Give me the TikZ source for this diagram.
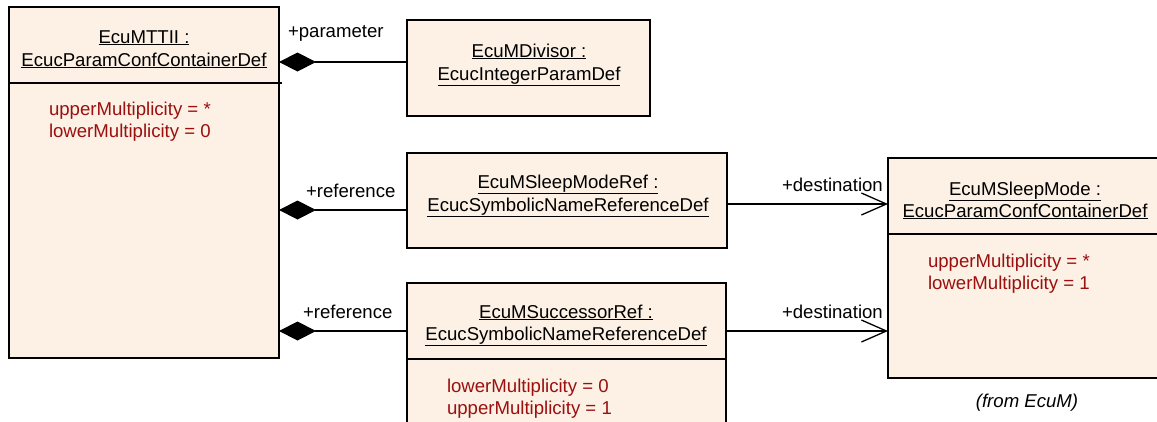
\documentclass[tikz,border=0pt]{standalone}
\usepackage{fontspec}
\setmainfont{Liberation Sans}
\usetikzlibrary{arrows.meta}
\definecolor{umlfill}{RGB}{252,241,228}
\definecolor{attrred}{RGB}{155,15,15}
\begin{document}
\begin{tikzpicture}[x=1pt,y=-1pt,
  umlbox/.style={draw=black, line width=1.4pt, fill=umlfill, inner sep=0pt, outer sep=0pt, anchor=north west},
  txt/.style={inner sep=0pt, outer sep=0pt, font=\fontsize{18.6pt}{22pt}\selectfont},
  ttl/.style={txt, anchor=base},
  attr/.style={txt, anchor=base west, text=attrred},
  lbl/.style={txt, anchor=base west},
  sepline/.style={line width=1.4pt},
  conn/.style={line width=1.3pt},
  comp/.style={conn, {Diamond[length=37pt,width=19pt]}-},
  dest/.style={conn, -{Straight Barb[length=25pt,width=22pt]}},
]
\useasboundingbox (0,0) rectangle (1157,421);
\begin{scope}
\clip (0,0) rectangle (1157,421);
% boxes
\node[umlbox, minimum width=270pt, minimum height=351pt] (mtt) at (9,7) {};
\node[umlbox, minimum width=243pt, minimum height=96pt] (div) at (407,20) {};
\node[umlbox, minimum width=320pt, minimum height=95pt] (smr) at (407,153) {};
\node[umlbox, minimum width=319pt, minimum height=150pt] (sr) at (407,283) {};
\node[umlbox, minimum width=280pt, minimum height=220pt] (sm) at (888,158) {};
% separators
\draw[sepline] (9,83) -- (282,83);
\draw[sepline] (407,359) -- (727,359);
\draw[sepline] (888,234) -- (1168,234);
% texts
\node[ttl] (mttT1) at (144,43) {\underline{EcuMTTII :}};
\node[ttl] (mttT2) at (144,66) {\underline{EcucParamConfContainerDef}};
\node[attr] (mttA1) at (49,115) {upperMultiplicity = *};
\node[attr] (mttA2) at (49,137) {lowerMultiplicity = 0};
\node[ttl] (divT1) at (529,57) {\underline{EcuMDivisor :}};
\node[ttl] (divT2) at (529,80) {\underline{EcucIntegerParamDef}};
\node[ttl] (smrT1) at (568,188) {\underline{EcuMSleepModeRef :}};
\node[ttl] (smrT2) at (568,211) {\underline{EcucSymbolicNameReferenceDef}};
\node[ttl] (srT1) at (566,318) {\underline{EcuMSuccessorRef :}};
\node[ttl] (srT2) at (566,340) {\underline{EcucSymbolicNameReferenceDef}};
\node[attr] (srA1) at (447,392) {lowerMultiplicity = 0};
\node[attr] (srA2) at (447,414) {upperMultiplicity = 1};
\node[ttl] (smT1) at (1025,195) {\underline{EcuMSleepMode :}};
\node[ttl] (smT2) at (1025,217) {\underline{EcucParamConfContainerDef}};
\node[attr] (smA1) at (928,267) {upperMultiplicity = *};
\node[attr] (smA2) at (928,289) {lowerMultiplicity = 1};
\node[ttl, font=\fontsize{18.6pt}{22pt}\selectfont\itshape] (from) at (1027,407) {(from EcuM)};
% connectors
\coordinate (yparam) at (0,62);
\coordinate (yref1) at (0,210);
\coordinate (yref2) at (0,331);
\coordinate (ydest1) at (0,204);
\coordinate (ydest2) at (0,331);
\draw[comp] (mtt.east |- yparam) -- (div.west |- yparam);
\draw[comp] (mtt.east |- yref1) -- (smr.west |- yref1);
\draw[comp] (mtt.east |- yref2) -- (sr.west |- yref2);
\draw[dest] (smr.east |- ydest1) -- (sm.west |- ydest1);
\draw[dest] (sr.east |- ydest2) -- (sm.west |- ydest2);
% labels
\node[lbl] (lpar) at (288,37) {+parameter};
\node[lbl] (lref1) at (306,197) {+reference};
\node[lbl] (lref2) at (303,318) {+reference};
\node[lbl] (ldest1) at (782,191) {+destination};
\node[lbl] (ldest2) at (782,318) {+destination};
\end{scope}
\end{tikzpicture}
\end{document}
